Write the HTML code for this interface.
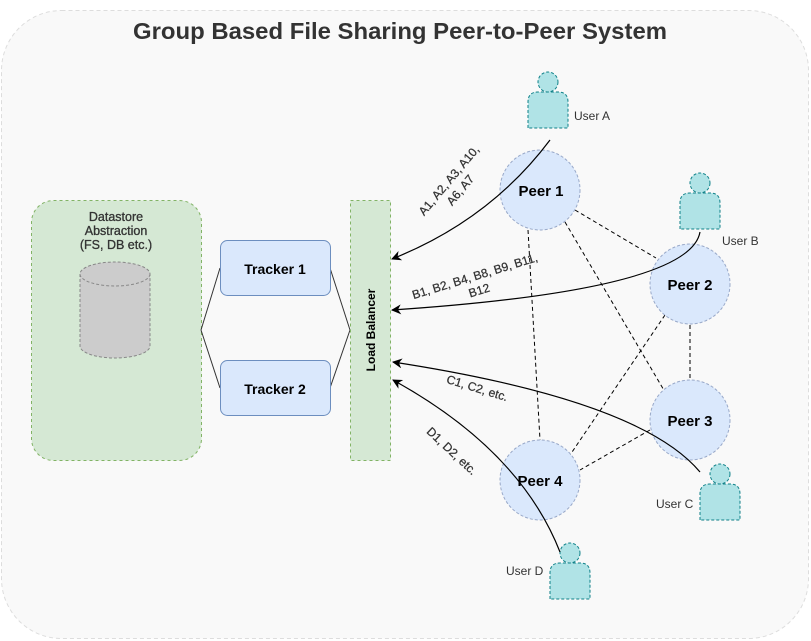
<!DOCTYPE html>
<html><head><meta charset="utf-8"><style>
html,body{margin:0;padding:0;background:#fff;}
svg{display:block;font-family:"Liberation Sans",Arial,sans-serif;}
</style></head><body>
<svg width="811" height="641" viewBox="0 0 811 641" xmlns="http://www.w3.org/2000/svg">
<defs>
<marker id="ar" markerWidth="10" markerHeight="10" refX="9" refY="5" orient="auto" markerUnits="userSpaceOnUse">
<path d="M0,0 L10,5 L0,10 L3,5 Z" fill="#000"/>
</marker>
<g id="user">
<circle cx="0" cy="0" r="10" fill="#b0e3e6" stroke="#0e8088" stroke-dasharray="3,2"/>
<path d="M-20,46 L-20,20 Q-20,10 -10,10 L10,10 Q20,10 20,20 L20,46 Z" fill="#b0e3e6" stroke="#0e8088" stroke-dasharray="3,2"/>
</g>
</defs>
<rect x="1.5" y="10.5" width="807" height="628" rx="60" fill="#f9f9f9" stroke="#ddd" stroke-dasharray="4,3"/>
<text x="400" y="39" font-size="23" font-weight="bold" fill="#333" text-anchor="middle" textLength="534" lengthAdjust="spacingAndGlyphs">Group Based File Sharing Peer-to-Peer System</text>

<rect x="31.5" y="200.5" width="170" height="260" rx="22" fill="#d5e8d4" stroke="#82b366" stroke-dasharray="3,3"/>
<text font-size="12.5" fill="#333" text-anchor="middle" stroke="#333" stroke-width="0.3"><tspan x="116" y="221">Datastore</tspan><tspan x="116" y="235">Abstraction</tspan><tspan x="116" y="249">(FS, DB etc.)</tspan></text>
<path d="M80,274 L80,346 A35,12 0 0 0 150,346 L150,274" fill="#ccc" stroke="#888" stroke-dasharray="3,2"/>
<ellipse cx="115" cy="274" rx="35" ry="12" fill="#ccc" stroke="#888" stroke-dasharray="3,2"/>

<path d="M201,330 L220,268 M201,330 L220,388 M330,268 L350,330 M330,388 L350,330" stroke="#333" fill="none"/>
<rect x="220.5" y="240.5" width="110" height="55" rx="7" fill="#dae8fc" stroke="#6c8ebf"/>
<text x="275" y="274" font-size="14" font-weight="bold" text-anchor="middle" fill="#000">Tracker 1</text>
<rect x="220.5" y="360.5" width="110" height="55" rx="7" fill="#dae8fc" stroke="#6c8ebf"/>
<text x="275" y="394" font-size="14" font-weight="bold" text-anchor="middle" fill="#000">Tracker 2</text>

<rect x="350.5" y="200.5" width="40" height="260" fill="#d5e8d4" stroke="#82b366" stroke-dasharray="3,3"/>
<text transform="translate(375,330) rotate(-90)" font-size="12" font-weight="bold" text-anchor="middle" fill="#000">Load Balancer</text>

<g stroke="#000" stroke-dasharray="4,3" fill="none">
<line x1="575" y1="210" x2="656" y2="258"/>
<line x1="565" y1="222" x2="665" y2="392"/>
<line x1="528" y1="230" x2="540" y2="440"/>
<line x1="690" y1="325" x2="690" y2="380"/>
<line x1="665" y1="315" x2="570" y2="455"/>
<line x1="650" y1="430" x2="580" y2="470"/>
</g>
<g fill="#dae8fc" stroke="#99a9c9" stroke-dasharray="3,2">
<circle cx="540" cy="190" r="40"/>
<circle cx="690" cy="284" r="40"/>
<circle cx="690" cy="420" r="40"/>
<circle cx="540" cy="480" r="40"/>
</g>
<g font-size="15" font-weight="bold" text-anchor="middle" fill="#000">
<text x="541" y="196">Peer 1</text>
<text x="690" y="290">Peer 2</text>
<text x="690" y="426">Peer 3</text>
<text x="540" y="486">Peer 4</text>
</g>

<use href="#user" x="548" y="82"/>
<use href="#user" x="700" y="183"/>
<use href="#user" x="720" y="474"/>
<use href="#user" x="570" y="553"/>
<g font-size="12" fill="#333">
<text x="574" y="120">User A</text>
<text x="722" y="245">User B</text>
<text x="656" y="508">User C</text>
<text x="506" y="575">User D</text>
</g>

<g stroke="#000" fill="none" stroke-width="1.2" marker-end="url(#ar)">
<path d="M550,140 Q490,220 392,259"/>
<path d="M700,232 Q690,290 392,310"/>
<path d="M700,472 Q640,400 393,362"/>
<path d="M560,552 Q520,450 393,380"/>
</g>
<g font-size="12" fill="#333" text-anchor="middle" stroke="#333" stroke-width="0.25">
<text transform="translate(452,183) rotate(-50)"><tspan x="0" y="0">A1, A2, A3, A10,</tspan><tspan x="0" y="15">A6, A7</tspan></text>
<text transform="translate(476,280) rotate(-17)"><tspan x="0" y="0">B1, B2, B4, B8, B9, B11,</tspan><tspan x="0" y="15">B12</tspan></text>
<text transform="translate(476,392) rotate(17)">C1, C2, etc.</text>
<text transform="translate(449,454) rotate(43)">D1, D2, etc.</text>
</g>
</svg>
</body></html>
